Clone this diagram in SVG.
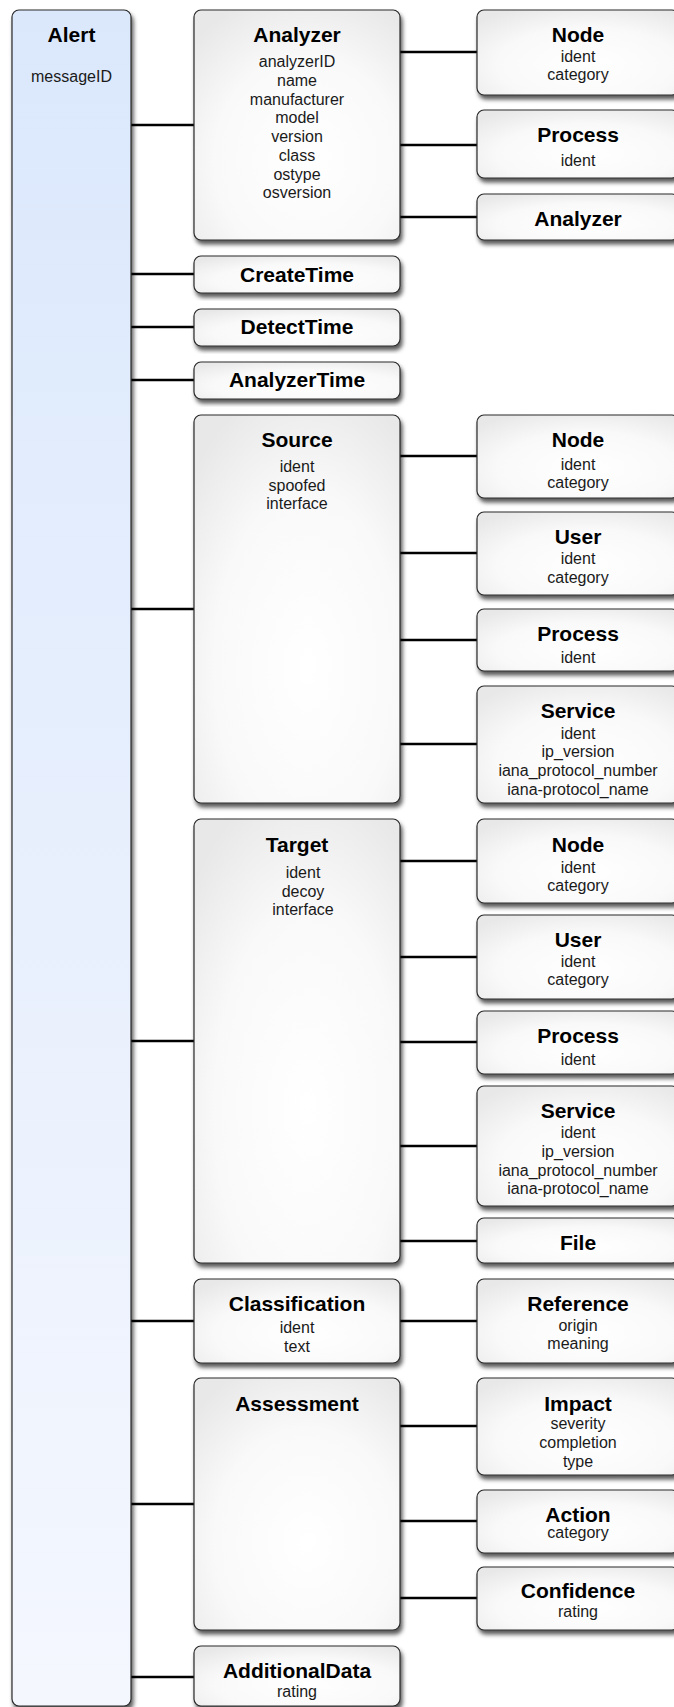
<svg xmlns="http://www.w3.org/2000/svg" width="674" height="1707" viewBox="0 0 674 1707">
<style>
.box{stroke:#2a2a2a;stroke-width:1.2;fill:url(#g);filter:url(#sh)}
.alert{stroke:#2a2a2a;stroke-width:1.2;fill:url(#ga);filter:url(#sh)}
.t{font-family:"Liberation Sans",Arial,Helvetica,sans-serif;font-weight:bold;font-size:21px;fill:#000;text-anchor:middle}
.i{font-family:"Liberation Sans",Arial,Helvetica,sans-serif;font-size:16px;fill:#1a1a1a;text-anchor:middle}
.c line{stroke:#000;stroke-width:2.4}
</style>
<defs>
<filter id="sh" x="-10%" y="-10%" width="130%" height="130%">
<feDropShadow dx="2" dy="4" stdDeviation="2" flood-color="#000" flood-opacity="0.65"/>
</filter>
<radialGradient id="g" cx="55%" cy="65%" r="75%">
<stop offset="0" stop-color="#ffffff"/>
<stop offset="0.6" stop-color="#f9f9f9"/>
<stop offset="1" stop-color="#e8e8e8"/>
</radialGradient>
<linearGradient id="ga" x1="0" y1="0" x2="0" y2="1">
<stop offset="0" stop-color="#dbe8fc"/>
<stop offset="1" stop-color="#f4f7fe"/>
</linearGradient>
</defs>
<rect width="674" height="1707" fill="#fff"/>

<g class="c" id="connectors">
<line x1="131" y1="125" x2="194" y2="125"/>
<line x1="131" y1="274" x2="194" y2="274"/>
<line x1="131" y1="327" x2="194" y2="327"/>
<line x1="131" y1="380" x2="194" y2="380"/>
<line x1="131" y1="609" x2="194" y2="609"/>
<line x1="131" y1="1041" x2="194" y2="1041"/>
<line x1="131" y1="1321" x2="194" y2="1321"/>
<line x1="131" y1="1504" x2="194" y2="1504"/>
<line x1="131" y1="1677" x2="194" y2="1677"/>
<line x1="400" y1="52" x2="477" y2="52"/>
<line x1="400" y1="145" x2="477" y2="145"/>
<line x1="400" y1="217" x2="477" y2="217"/>
<line x1="400" y1="456" x2="477" y2="456"/>
<line x1="400" y1="553" x2="477" y2="553"/>
<line x1="400" y1="640" x2="477" y2="640"/>
<line x1="400" y1="744" x2="477" y2="744"/>
<line x1="400" y1="861" x2="477" y2="861"/>
<line x1="400" y1="957" x2="477" y2="957"/>
<line x1="400" y1="1042" x2="477" y2="1042"/>
<line x1="400" y1="1146" x2="477" y2="1146"/>
<line x1="400" y1="1241" x2="477" y2="1241"/>
<line x1="400" y1="1321" x2="477" y2="1321"/>
<line x1="400" y1="1426" x2="477" y2="1426"/>
<line x1="400" y1="1521" x2="477" y2="1521"/>
<line x1="400" y1="1598" x2="477" y2="1598"/>
</g>

<g id="alert">
<rect class="alert" x="12" y="10" width="119" height="1696" rx="7"/>
<text class="t" x="71.5" y="42">Alert</text>
<text class="i" x="71.5" y="82">messageID</text>
</g>

<g id="analyzer">
<rect class="box" x="194" y="10" width="206" height="230" rx="7"/>
<text class="t" x="297" y="42">Analyzer</text>
<text class="i" x="297" y="67">analyzerID</text>
<text class="i" x="297" y="86">name</text>
<text class="i" x="297" y="105">manufacturer</text>
<text class="i" x="297" y="123">model</text>
<text class="i" x="297" y="142">version</text>
<text class="i" x="297" y="161">class</text>
<text class="i" x="297" y="180">ostype</text>
<text class="i" x="297" y="198">osversion</text>
</g>
<g id="analyzer-node">
<rect class="box" x="477" y="10" width="202" height="85" rx="7"/>
<text class="t" x="578" y="42">Node</text>
<text class="i" x="578" y="62">ident</text>
<text class="i" x="578" y="80">category</text>
</g>
<g id="analyzer-process">
<rect class="box" x="477" y="110" width="202" height="68" rx="7"/>
<text class="t" x="578" y="142">Process</text>
<text class="i" x="578" y="166">ident</text>
</g>
<g id="analyzer-analyzer">
<rect class="box" x="477" y="194" width="202" height="46" rx="7"/>
<text class="t" x="578" y="226">Analyzer</text>
</g>

<g id="createtime">
<rect class="box" x="194" y="256" width="206" height="37" rx="7"/>
<text class="t" x="297" y="282">CreateTime</text>
</g>
<g id="detecttime">
<rect class="box" x="194" y="309" width="206" height="37" rx="7"/>
<text class="t" x="297" y="334">DetectTime</text>
</g>
<g id="analyzertime">
<rect class="box" x="194" y="362" width="206" height="37" rx="7"/>
<text class="t" x="297" y="387">AnalyzerTime</text>
</g>

<g id="source">
<rect class="box" x="194" y="415" width="206" height="388" rx="7"/>
<text class="t" x="297" y="447">Source</text>
<text class="i" x="297" y="472">ident</text>
<text class="i" x="297" y="491">spoofed</text>
<text class="i" x="297" y="509">interface</text>
</g>
<g id="source-node">
<rect class="box" x="477" y="415" width="202" height="83" rx="7"/>
<text class="t" x="578" y="447">Node</text>
<text class="i" x="578" y="470">ident</text>
<text class="i" x="578" y="488">category</text>
</g>
<g id="source-user">
<rect class="box" x="477" y="512" width="202" height="83" rx="7"/>
<text class="t" x="578" y="544">User</text>
<text class="i" x="578" y="564">ident</text>
<text class="i" x="578" y="583">category</text>
</g>
<g id="source-process">
<rect class="box" x="477" y="609" width="202" height="62" rx="7"/>
<text class="t" x="578" y="641">Process</text>
<text class="i" x="578" y="663">ident</text>
</g>
<g id="source-service">
<rect class="box" x="477" y="686" width="202" height="117" rx="7"/>
<text class="t" x="578" y="718">Service</text>
<text class="i" x="578" y="739">ident</text>
<text class="i" x="578" y="757">ip_version</text>
<text class="i" x="578" y="776">iana_protocol_number</text>
<text class="i" x="578" y="795">iana-protocol_name</text>
</g>

<g id="target">
<rect class="box" x="194" y="819" width="206" height="444" rx="7"/>
<text class="t" x="297" y="852">Target</text>
<text class="i" x="303" y="878">ident</text>
<text class="i" x="303" y="897">decoy</text>
<text class="i" x="303" y="915">interface</text>
</g>
<g id="target-node">
<rect class="box" x="477" y="819" width="202" height="84" rx="7"/>
<text class="t" x="578" y="852">Node</text>
<text class="i" x="578" y="873">ident</text>
<text class="i" x="578" y="891">category</text>
</g>
<g id="target-user">
<rect class="box" x="477" y="915" width="202" height="84" rx="7"/>
<text class="t" x="578" y="947">User</text>
<text class="i" x="578" y="967">ident</text>
<text class="i" x="578" y="985">category</text>
</g>
<g id="target-process">
<rect class="box" x="477" y="1011" width="202" height="63" rx="7"/>
<text class="t" x="578" y="1043">Process</text>
<text class="i" x="578" y="1065">ident</text>
</g>
<g id="target-service">
<rect class="box" x="477" y="1086" width="202" height="120" rx="7"/>
<text class="t" x="578" y="1118">Service</text>
<text class="i" x="578" y="1138">ident</text>
<text class="i" x="578" y="1157">ip_version</text>
<text class="i" x="578" y="1176">iana_protocol_number</text>
<text class="i" x="578" y="1194">iana-protocol_name</text>
</g>
<g id="target-file">
<rect class="box" x="477" y="1218" width="202" height="45" rx="7"/>
<text class="t" x="578" y="1250">File</text>
</g>

<g id="classification">
<rect class="box" x="194" y="1279" width="206" height="84" rx="7"/>
<text class="t" x="297" y="1311">Classification</text>
<text class="i" x="297" y="1333">ident</text>
<text class="i" x="297" y="1352">text</text>
</g>
<g id="reference">
<rect class="box" x="477" y="1279" width="202" height="84" rx="7"/>
<text class="t" x="578" y="1311">Reference</text>
<text class="i" x="578" y="1331">origin</text>
<text class="i" x="578" y="1349">meaning</text>
</g>

<g id="assessment">
<rect class="box" x="194" y="1378" width="206" height="252" rx="7"/>
<text class="t" x="297" y="1411">Assessment</text>
</g>
<g id="impact">
<rect class="box" x="477" y="1378" width="202" height="97" rx="7"/>
<text class="t" x="578" y="1411">Impact</text>
<text class="i" x="578" y="1429">severity</text>
<text class="i" x="578" y="1448">completion</text>
<text class="i" x="578" y="1467">type</text>
</g>
<g id="action">
<rect class="box" x="477" y="1490" width="202" height="63" rx="7"/>
<text class="t" x="578" y="1522">Action</text>
<text class="i" x="578" y="1538">category</text>
</g>
<g id="confidence">
<rect class="box" x="477" y="1567" width="202" height="63" rx="7"/>
<text class="t" x="578" y="1598">Confidence</text>
<text class="i" x="578" y="1617">rating</text>
</g>

<g id="additionaldata">
<rect class="box" x="194" y="1646" width="206" height="60" rx="7"/>
<text class="t" x="297" y="1678">AdditionalData</text>
<text class="i" x="297" y="1697">rating</text>
</g>
</svg>
